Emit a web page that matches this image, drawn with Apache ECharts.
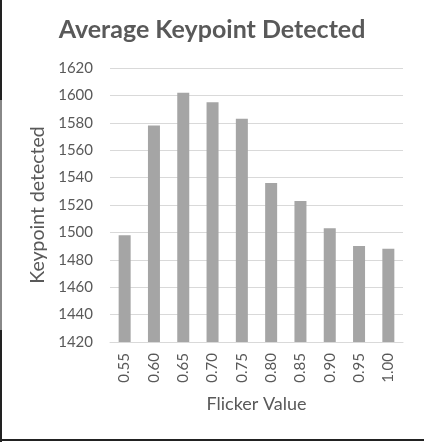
<!DOCTYPE html>
<html>
<head>
<meta charset="utf-8">
<script src="https://cdn.jsdelivr.net/npm/echarts@6/dist/echarts.min.js"></script>
<style>
  html, body { margin: 0; padding: 0; background: #fff; }
  #chart { width: 424px; height: 442px; }
</style>
</head>
<body>
<div id="chart"></div>
<script>
// flicker values on the x axis
const flickerValues = ['0.55', '0.60', '0.65', '0.70', '0.75', '0.80', '0.85', '0.90', '0.95', '1.00'];
// average keypoints detected per flicker value
const keypoints = [1498, 1578, 1602, 1595, 1583, 1536, 1523, 1503, 1490, 1488];

const chart = echarts.init(document.getElementById('chart'));

const textGray = '#595959';
const gridGray = '#d9d9d9';

chart.setOption({
  animation: false,
  textStyle: { fontFamily: 'Lato' },
  title: {
    text: 'Average Keypoint Detected',
    left: 'center',
    top: 12,
    textStyle: { fontFamily: 'Lato', fontSize: 25, fontWeight: 'bold', color: textGray }
  },
  grid: { left: 110, right: 21, top: 68, bottom: 100 },
  xAxis: {
    type: 'category',
    data: flickerValues,
    name: 'Flicker Value',
    nameLocation: 'middle',
    nameGap: 53,
    nameTextStyle: { fontSize: 18, color: textGray },
    axisLine: { lineStyle: { color: gridGray, width: 1 } },
    axisTick: { show: false },
    axisLabel: { rotate: 90, fontSize: 15, color: textGray, margin: 11 }
  },
  yAxis: {
    type: 'value',
    min: 1420,
    max: 1620,
    interval: 20,
    name: 'Keypoint detected',
    nameLocation: 'middle',
    nameRotate: 90,
    nameGap: 56,
    nameTextStyle: { fontSize: 19.5, color: textGray },
    axisLine: { show: false },
    axisTick: { show: false },
    axisLabel: { fontSize: 15, color: textGray, margin: 17, formatter: v => String(v) },
    splitLine: { lineStyle: { color: gridGray, width: 1 } }
  },
  series: [{
    type: 'bar',
    data: keypoints,
    barWidth: 12,
    itemStyle: { color: '#a5a5a5' }
  }],
  // frame lines along the left and bottom edge of the picture
  graphic: [
    { type: 'rect', shape: { x: 0, y: 0, width: 2, height: 100 }, style: { fill: '#222' } },
    { type: 'rect', shape: { x: 0, y: 100, width: 2, height: 230 }, style: { fill: '#888' } },
    { type: 'rect', shape: { x: 0, y: 330, width: 2, height: 112 }, style: { fill: '#222' } },
    { type: 'rect', shape: { x: 0, y: 439, width: 424, height: 2 }, style: { fill: '#222' } }
  ]
});
</script>
</body>
</html>
